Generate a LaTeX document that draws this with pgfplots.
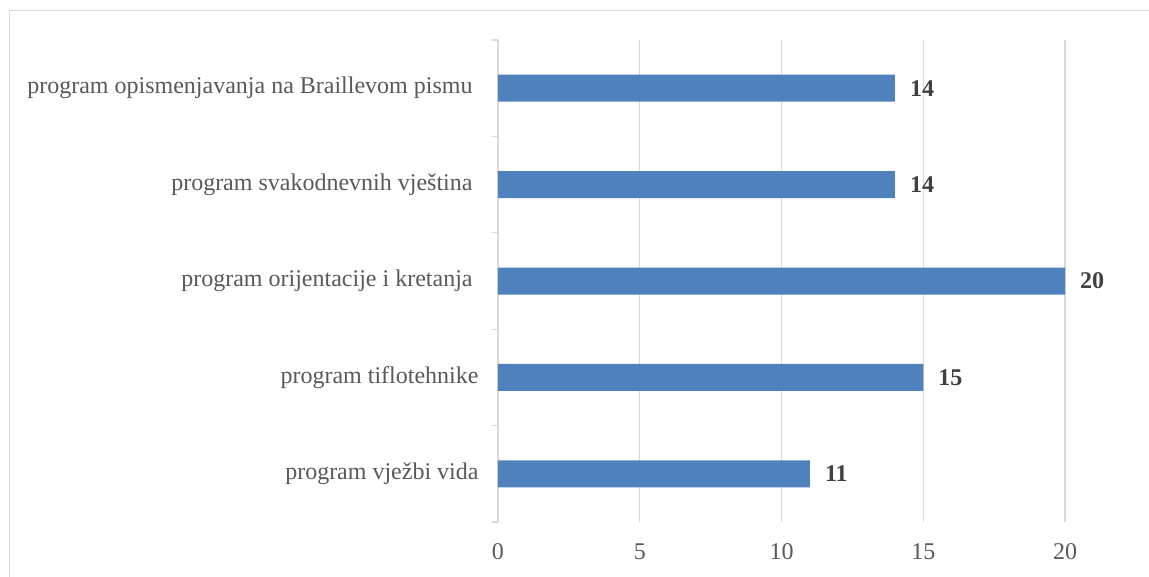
\documentclass[border=0pt]{standalone}
\usepackage{pgfplots}
\pgfplotsset{compat=1.18}
\usepackage{fontspec}
\setmainfont{Liberation Serif}
\definecolor{gridc}{HTML}{D9D9D9}
\definecolor{barc}{HTML}{4F81BD}
\definecolor{labc}{HTML}{595959}
\definecolor{valc}{HTML}{404040}
\begin{document}
\begin{tikzpicture}
\path[use as bounding box] (0,0) rectangle (1149pt,576pt);
\draw[color=gridc, line width=1.3pt] (9.5pt,-5pt) -- (9.5pt,565.5pt) -- (1155pt,565.5pt);
\begin{axis}[
  at={(498pt,54pt)}, anchor=south west,
  scale only axis, width=567pt, height=482pt,
  xbar, bar width=27pt,
  xmin=0, xmax=20, ymin=0.5, ymax=5.5,
  axis lines*=left,
  x axis line style={draw=none},
  y axis line style={color=gridc, line width=1.3pt},
  xtick={0,5,10,15,20},
  major x tick style={draw=none},
  xmajorgrids, grid style={color=gridc, line width=1.3pt},
  ytick={1,2,3,4,5},
  yticklabels={program vježbi vida, program tiflotehnike, program orijentacije i kretanja\kern6pt, program svakodnevnih vještina\kern6pt, program opismenjavanja na Braillevom pismu\kern6pt},
  major y tick style={draw=none},
  minor ytick={0.5,1.5,2.5,3.5,4.5,5.5},
  minor y tick style={color=gridc, line width=1.3pt},
  minor tick length=6pt,
  tick align=outside,
  /pgf/number format/assume math mode=true,
  ticklabel style={font=\fontsize{24}{28}\selectfont, color=labc},
  yticklabel style={anchor=east, inner sep=0pt, xshift=-15pt},
  xticklabel style={anchor=north, inner sep=0pt, yshift=-17pt},
  nodes near coords,
  nodes near coords style={font=\fontsize{24}{28}\selectfont\bfseries, color=valc, anchor=west, inner sep=0pt, xshift=15pt},
]
\addplot[draw=none, fill=barc] coordinates {(11,1) (15,2) (20,3) (14,4) (14,5)};
\end{axis}
\end{tikzpicture}
\end{document}
